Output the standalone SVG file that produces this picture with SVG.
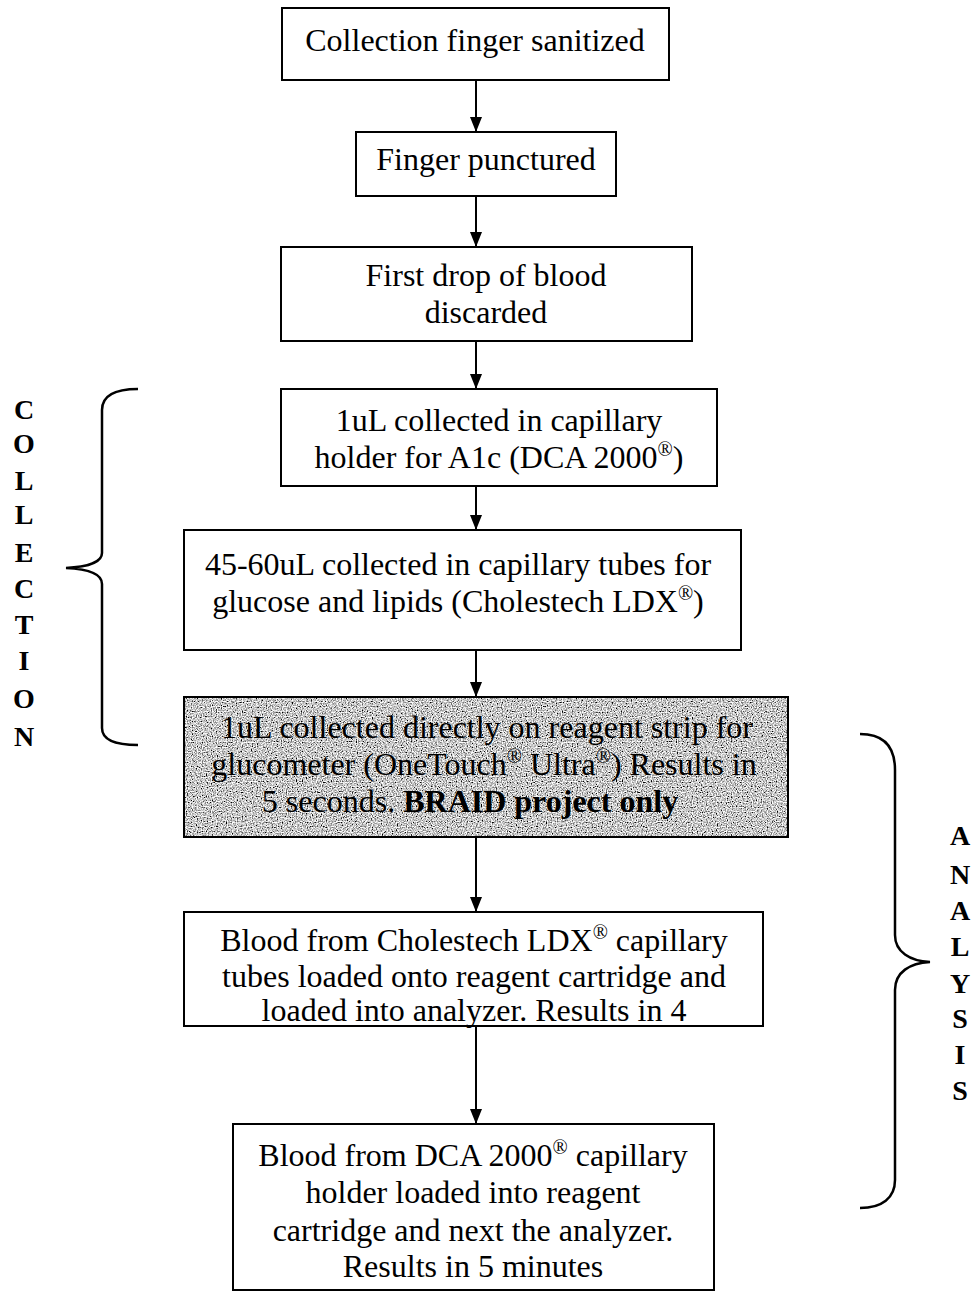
<svg xmlns="http://www.w3.org/2000/svg" width="974" height="1291" viewBox="0 0 974 1291">
<style>
.box{fill:#fff;stroke:#000;stroke-width:2}
.t{font-family:"Liberation Serif","Times New Roman",serif;font-size:32px;fill:#000;text-anchor:middle}
.lbl{font-family:"Liberation Serif","Times New Roman",serif;font-size:28px;font-weight:bold;fill:#000;text-anchor:middle}
.con{stroke:#000;stroke-width:2;fill:none}
.brace{stroke:#000;stroke-width:2.5;fill:none}
.sup{font-size:20px}
</style>
<defs>
<marker id="ah" markerWidth="15" markerHeight="12" refX="15" refY="6" orient="auto" markerUnits="userSpaceOnUse">
<path d="M0,0 L15,6 L0,12 Z" fill="#000"/>
</marker>
<filter id="noise" x="0" y="0" width="100%" height="100%">
<feTurbulence type="fractalNoise" baseFrequency="0.8" numOctaves="1" seed="5" result="n"/>
<feColorMatrix in="n" type="matrix" values="1 0 0 0 0  1 0 0 0 0  1 0 0 0 0  0 0 0 0 1" result="g"/>
<feComponentTransfer in="g" result="c">
<feFuncR type="linear" slope="2.6" intercept="-0.72"/>
<feFuncG type="linear" slope="2.6" intercept="-0.72"/>
<feFuncB type="linear" slope="2.6" intercept="-0.72"/>
</feComponentTransfer>
<feComposite in="c" in2="SourceGraphic" operator="in"/>
</filter>
</defs>
<rect width="974" height="1291" fill="#fff"/>

<g id="connectors">
<line class="con" x1="476" y1="80" x2="476" y2="132" marker-end="url(#ah)"/>
<line class="con" x1="476" y1="196" x2="476" y2="247" marker-end="url(#ah)"/>
<line class="con" x1="476" y1="341" x2="476" y2="389" marker-end="url(#ah)"/>
<line class="con" x1="476" y1="486" x2="476" y2="530" marker-end="url(#ah)"/>
<line class="con" x1="476" y1="650" x2="476" y2="697" marker-end="url(#ah)"/>
<line class="con" x1="476" y1="837" x2="476" y2="912" marker-end="url(#ah)"/>
<line class="con" x1="476" y1="1026" x2="476" y2="1124" marker-end="url(#ah)"/>
</g>

<g id="n1">
<rect class="box" x="282" y="8" width="387" height="72"/>
<text class="t" x="475" y="51">Collection finger sanitized</text>
</g>
<g id="n2">
<rect class="box" x="356" y="132" width="260" height="64"/>
<text class="t" x="486" y="170">Finger punctured</text>
</g>
<g id="n3">
<rect class="box" x="281" y="247" width="411" height="94"/>
<text class="t" x="486" y="286">First drop of blood</text>
<text class="t" x="486" y="323">discarded</text>
</g>
<g id="n4">
<rect class="box" x="281" y="389" width="436" height="97"/>
<text class="t" x="499" y="431">1uL collected in capillary</text>
<text class="t" x="499" y="468">holder for A1c (DCA 2000<tspan class="sup" dy="-12">®</tspan><tspan dy="12">)</tspan></text>
</g>
<g id="n5">
<rect class="box" x="184" y="530" width="557" height="120"/>
<text class="t" x="458" y="575">45-60uL collected in capillary tubes for</text>
<text class="t" x="458" y="612">glucose and lipids (Cholestech LDX<tspan class="sup" dy="-12">®</tspan><tspan dy="12">)</tspan></text>
</g>
<g id="n6">
<rect x="184" y="697" width="604" height="140" fill="#a0a0a0" filter="url(#noise)"/>
<rect x="184" y="697" width="604" height="140" fill="none" stroke="#000" stroke-width="2"/>
<text class="t" x="487" y="738">1uL collected directly on reagent strip for</text>
<text class="t" x="484" y="775">glucometer (OneTouch<tspan class="sup" dy="-12">®</tspan><tspan dy="12"> Ultra</tspan><tspan class="sup" dy="-12">®</tspan><tspan dy="12">) Results in</tspan></text>
<text class="t" x="470" y="812">5 seconds. <tspan font-weight="bold">BRAID project only</tspan></text>
</g>
<g id="n7">
<rect class="box" x="184" y="912" width="579" height="114"/>
<text class="t" x="474" y="951">Blood from Cholestech LDX<tspan class="sup" dy="-12">®</tspan><tspan dy="12"> capillary</tspan></text>
<text class="t" x="474" y="987">tubes loaded onto reagent cartridge and</text>
<text class="t" x="474" y="1021">loaded into analyzer. Results in 4</text>
</g>
<g id="n8">
<rect class="box" x="233" y="1124" width="481" height="166"/>
<text class="t" x="473" y="1166">Blood from DCA 2000<tspan class="sup" dy="-12">®</tspan><tspan dy="12"> capillary</tspan></text>
<text class="t" x="473" y="1203">holder loaded into reagent</text>
<text class="t" x="473" y="1241">cartridge and next the analyzer.</text>
<text class="t" x="473" y="1277">Results in 5 minutes</text>
</g>

<g id="collection">
<path class="brace" d="M138,389 C115,389 102,396 102,410 L102,553 C102,562 88,567 66,568 C88,569 102,574 102,584 L102,728 C102,740 115,745 138,745"/>
<text class="lbl" x="24" y="419">C</text>
<text class="lbl" x="24" y="453">O</text>
<text class="lbl" x="24" y="490">L</text>
<text class="lbl" x="24" y="524">L</text>
<text class="lbl" x="24" y="562">E</text>
<text class="lbl" x="24" y="598">C</text>
<text class="lbl" x="24" y="634">T</text>
<text class="lbl" x="24" y="670">I</text>
<text class="lbl" x="24" y="708">O</text>
<text class="lbl" x="24" y="746">N</text>
</g>
<g id="analysis">
<path class="brace" d="M860,734 C882,734 895,745 895,770 L895,935 C895,952 910,961 930,962 C910,963 895,972 895,990 L895,1180 C895,1198 882,1208 860,1208"/>
<text class="lbl" x="960" y="845">A</text>
<text class="lbl" x="960" y="884">N</text>
<text class="lbl" x="960" y="920">A</text>
<text class="lbl" x="960" y="956">L</text>
<text class="lbl" x="960" y="993">Y</text>
<text class="lbl" x="960" y="1028">S</text>
<text class="lbl" x="960" y="1064">I</text>
<text class="lbl" x="960" y="1100">S</text>
</g>
</svg>
